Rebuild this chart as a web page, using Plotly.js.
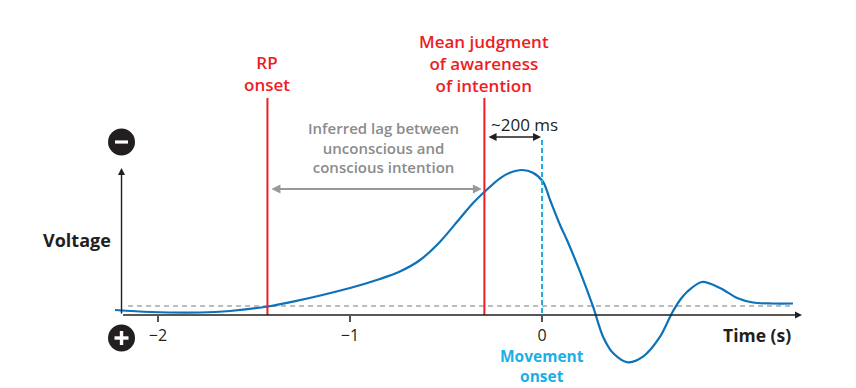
<!DOCTYPE html>
<html>
<head>
<meta charset="utf-8">
<script src="https://cdn.plot.ly/plotly-3.0.1.min.js"></script>
<style>
  html, body { margin: 0; padding: 0; background: #fff; }
  #chart { width: 856px; height: 388px; }
</style>
</head>
<body>
<div id="chart"></div>
<script>
// ---- Data (time in s, readiness potential as negativity, arbitrary units; up = negative) ----
const time = [-2.224, -2.04, -1.78, -1.625, -1.427, -1.297, -1.0, -0.844, -0.74, -0.635, -0.531, -0.427, -0.359, -0.302, -0.219, -0.167, -0.104, -0.047, 0.005, 0.042, 0.094, 0.130, 0.198, 0.266, 0.318, 0.370, 0.448, 0.526, 0.615, 0.677, 0.719, 0.755, 0.833, 0.927, 1.016, 1.099, 1.20, 1.307];
const voltage = [-0.4, -0.6, -0.65, -0.5, -0.05, 0.43, 1.8, 2.7, 3.45, 4.6, 6.43, 8.77, 10.3, 11.38, 12.77, 13.33, 13.6, 13.33, 12.43, 10.6, 8.1, 6.6, 3.43, -0.07, -3.07, -4.7, -5.63, -5.07, -3.07, -0.7, 0.6, 1.4, 2.4, 1.8, 0.8, 0.35, 0.25, 0.25];

const tickVals = [-2, -1, 0];
const tickText = ['\u22122', '\u22121', '0'];

const rpOnset = -1.43;          // RP onset
const awarenessTime = -0.30;    // mean judgment of awareness of intention
const movementOnset = 0;        // movement onset
const baselineLevel = 0;

// ---- Layout frame ----
const xRange = [-2.8229, 1.6354];
const yRange = [-8.2, 30.6];
const axisY = -0.9;   // level of the drawn time axis
const axisX0 = -2.19, axisX1 = 1.354;

const red = '#ee1c25';
const lightBlue = '#1cafe6';
const curveBlue = '#0c72ba';
const grayTxt = '#8b8b8b';
const dark = '#231f20';
const FONT = '"Open Sans", "Noto Sans", Arial, sans-serif';

const traces = [{
  x: time, y: voltage, type: 'scatter', mode: 'lines',
  line: { color: curveBlue, width: 2.2, shape: 'spline', smoothing: 0.9 },
  hoverinfo: 'skip', showlegend: false
}];

const shapes = [
  { type: 'line', xref: 'x', yref: 'y', x0: -2.156, x1: 1.307, y0: baselineLevel, y1: baselineLevel,
    line: { color: '#a6a6a6', width: 1.6, dash: '5px,4px' }, layer: 'below' },
  { type: 'line', xref: 'x', yref: 'y', x0: rpOnset, x1: rpOnset, y0: axisY, y1: 20.8,
    line: { color: red, width: 2 } },
  { type: 'line', xref: 'x', yref: 'y', x0: awarenessTime, x1: awarenessTime, y0: axisY, y1: 20.8,
    line: { color: red, width: 2 } },
  { type: 'line', xref: 'x', yref: 'y', x0: movementOnset, x1: movementOnset, y0: axisY + 0.2, y1: 16.8,
    line: { color: lightBlue, width: 2, dash: '5px,3px' } },
  { type: 'circle', xref: 'x', yref: 'y', xsizemode: 'pixel', ysizemode: 'pixel',
    xanchor: axisX0, yanchor: 16.4, x0: -13.5, x1: 13.5, y0: -13.5, y1: 13.5,
    fillcolor: dark, line: { width: 0 } },
  { type: 'circle', xref: 'x', yref: 'y', xsizemode: 'pixel', ysizemode: 'pixel',
    xanchor: axisX0, yanchor: -3.2, x0: -13.5, x1: 13.5, y0: -13.5, y1: 13.5,
    fillcolor: dark, line: { width: 0 } },
  { type: 'rect', xref: 'x', yref: 'y', xsizemode: 'pixel', ysizemode: 'pixel',
    xanchor: axisX0, yanchor: 16.4, x0: -6.5, x1: 6.5, y0: -1.6, y1: 1.6,
    fillcolor: '#ffffff', line: { width: 0 } },
  { type: 'rect', xref: 'x', yref: 'y', xsizemode: 'pixel', ysizemode: 'pixel',
    xanchor: axisX0, yanchor: -3.2, x0: -7, x1: 7, y0: -1.7, y1: 1.7,
    fillcolor: '#ffffff', line: { width: 0 } },
  { type: 'rect', xref: 'x', yref: 'y', xsizemode: 'pixel', ysizemode: 'pixel',
    xanchor: axisX0, yanchor: -3.2, x0: -1.7, x1: 1.7, y0: -7, y1: 7,
    fillcolor: '#ffffff', line: { width: 0 } }
];

function txt(x, y, text, size, color, weight, yanchor) {
  return { xref: 'x', yref: 'y', x: x, y: y, text: text, showarrow: false,
    xanchor: 'center', yanchor: yanchor || 'middle', align: 'center', borderpad: 0,
    font: { family: FONT, size: size, color: color, weight: weight } };
}
function arrow(x, y, ax, ay, color, width, side, head) {
  return { xref: 'x', yref: 'y', axref: 'x', ayref: 'y', x: x, y: y, ax: ax, ay: ay,
    text: '', showarrow: true, arrowhead: head, arrowsize: 1, arrowwidth: width,
    arrowcolor: color, arrowside: side, standoff: 0, startstandoff: 0 };
}

const annotations = [
  arrow(axisX1, axisY, axisX0, axisY, dark, 1.4, 'end', 2),
  arrow(axisX0, 13.8, axisX0, axisY, dark, 1.4, 'end', 2),
  arrow(-0.313, 11.7, -1.417, 11.7, '#999999', 1.8, 'end+start', 2),
  arrow(-0.005, 16.9, -0.286, 16.9, dark, 1.6, 'end+start', 2),
  txt(-0.302, 24.3, 'Mean judgment<br>of awareness<br>of intention', 17, red, 600),
  txt(rpOnset, 23.25, 'RP<br>onset', 17, red, 600),
  txt(-0.828, 15.9, 'Inferred lag between<br>unconscious and<br>conscious intention', 15, grayTxt, 600),
  txt(-0.089, 18.2, '~200 ms', 17, dark, 400),
  txt(-2.42, 6.6, 'Voltage', 18, dark, 700),
  txt(1.12, -2.9, 'Time (s)', 17.5, dark, 700),
  txt(movementOnset, -8.15, 'Movement<br>onset', 15.5, lightBlue, 700, 'bottom')
];

const layout = {
  width: 856, height: 388,
  margin: { l: 0, r: 0, t: 0, b: 0, pad: 0 },
  paper_bgcolor: '#ffffff', plot_bgcolor: '#ffffff',
  showlegend: false,
  xaxis: {
    range: xRange, showgrid: false, zeroline: false, showline: false,
    anchor: 'free', position: (axisY - yRange[0]) / (yRange[1] - yRange[0]),
    tickmode: 'array', tickvals: tickVals, ticktext: tickText,
    ticks: 'outside', ticklen: 6, tickwidth: 1.5, tickcolor: '#555555',
    tickfont: { family: FONT, size: 16, color: dark },
    fixedrange: true
  },
  yaxis: { range: yRange, visible: false, fixedrange: true },
  shapes: shapes,
  annotations: annotations
};

Plotly.newPlot('chart', traces, layout, { displayModeBar: false, staticPlot: true });
</script>
</body>
</html>
